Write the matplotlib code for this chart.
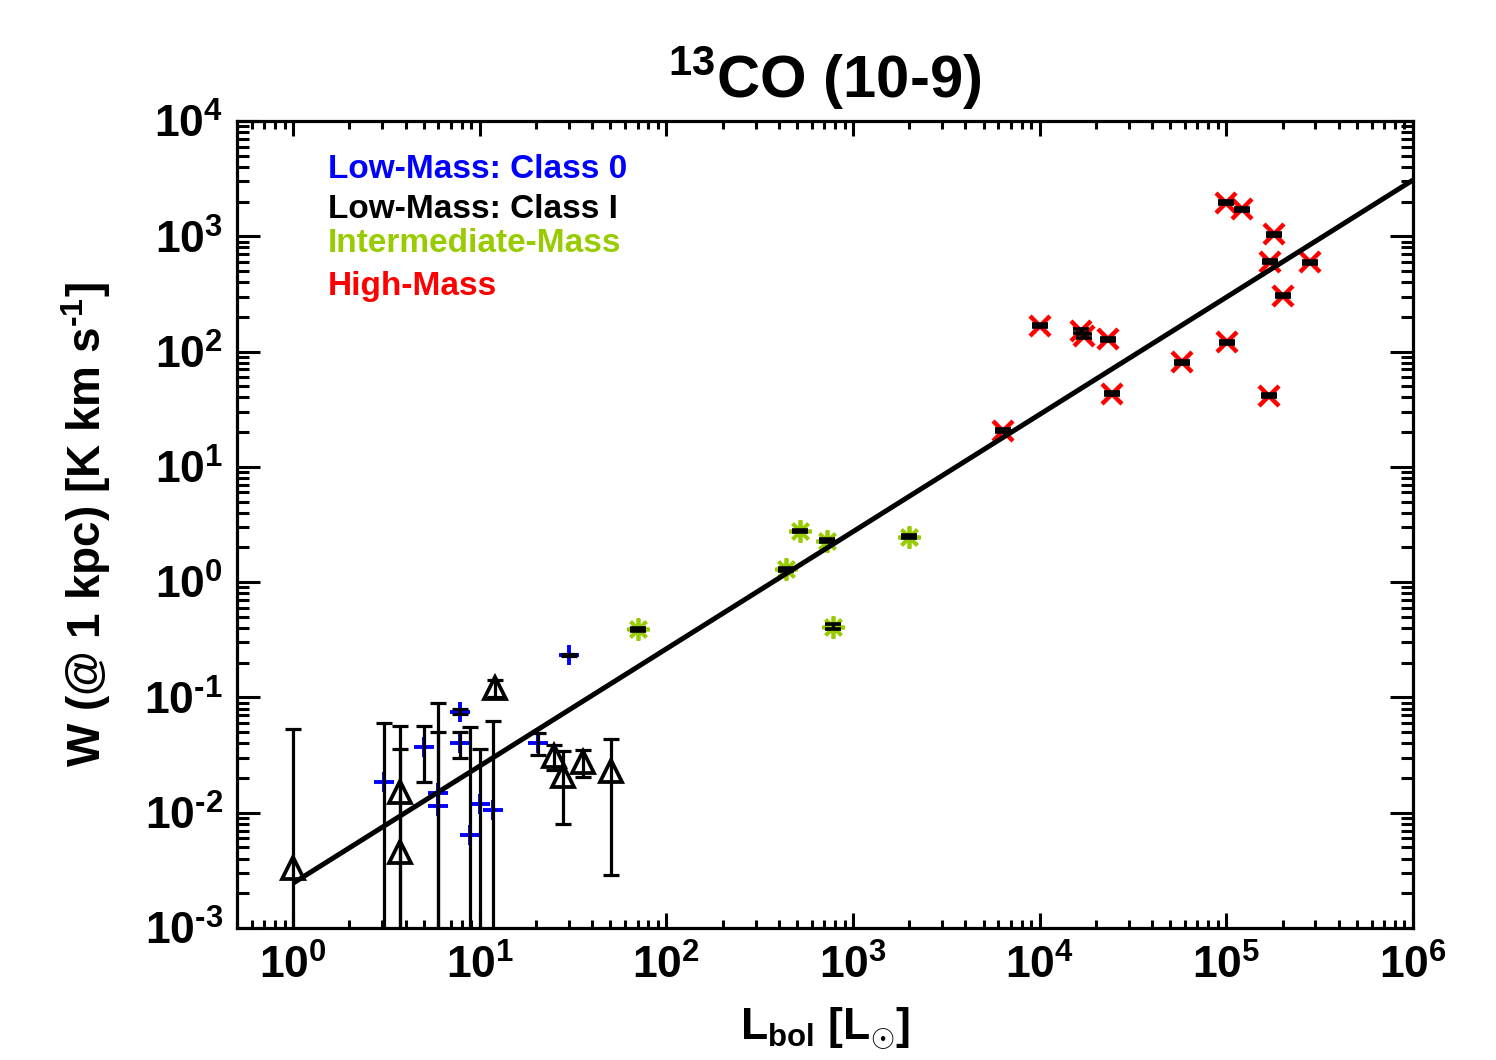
import numpy as np
import matplotlib
matplotlib.use("Agg")
import matplotlib.pyplot as plt
from matplotlib.ticker import LogLocator, FuncFormatter, NullFormatter

plt.rcParams['font.family'] = ['Liberation Sans', 'DejaVu Sans']
plt.rcParams['font.weight'] = 'bold'
plt.rcParams['mathtext.fontset'] = 'custom'
plt.rcParams['mathtext.rm'] = 'Liberation Sans:bold'
plt.rcParams['mathtext.it'] = 'Liberation Sans:bold'
plt.rcParams['mathtext.bf'] = 'Liberation Sans:bold'
plt.rcParams['mathtext.sf'] = 'Liberation Sans:bold'

# ---------------- data ----------------
# Low-mass Class 0 (blue +)
c0_L = [3.05, 5.0, 6.0, 6.0, 7.8, 7.8, 8.9, 10.0, 11.8, 20.6, 30.0]
c0_W = [0.0186, 0.0374, 0.0148, 0.0115, 0.0753, 0.0401, 0.0064, 0.0119, 0.0106, 0.0405, 0.234]
c0_err = [0.042, 0.019, 0.075, 0.039, 0.004, 0.0105, 0.049, 0.024, 0.052, 0.0087, 0.004]

# Low-mass Class I (black triangles)
c1_L = [1.0, 3.74, 3.74, 12.1, 25.1, 28.0, 35.9, 50.3]
c1_W = [0.0033, 0.0152, 0.0046, 0.121, 0.031, 0.021, 0.0277, 0.0232]
c1_err = [0.050, 0.041, 0.031, 0.02, 0.0077, 0.013, 0.0072, 0.0203]

# Intermediate-mass (green asterisks)
im_L = [70, 438, 520, 722, 783, 2000]
im_W = [0.39, 1.29, 2.78, 2.29, 0.41, 2.48]
im_err = [0.012, 0.04, 0.08, 0.07, 0.02, 0.07]

# High-mass (red x)
hm_L = [6330, 10000, 16600, 17200, 23100, 24300, 58200, 100200, 100000,
        120600, 180300, 171000, 200000, 280000, 169500]
hm_W = [20.5, 168, 150, 136, 128, 42.9, 80.7, 120, 1958,
        1714, 1040, 602, 305, 594, 41.5]
hm_err = [0.6, 5, 6, 5, 4, 1.3, 2.4, 3.6, 60, 50, 30, 18, 9, 18, 1.2]

# Fit line end points
fit_L = [1.0, 1.0e6]
fit_W = [0.00245, 3076.0]

# ---------------- figure ----------------
W_px, H_px = 1496, 1060
fig = plt.figure(figsize=(W_px / 100, H_px / 100), dpi=100)
ax = fig.add_axes([237 / W_px, 1 - 928 / H_px, (1413 - 237) / W_px, (928 - 121) / H_px])
ax.set_xscale('log')
ax.set_yscale('log')
ax.set_xlim(0.5, 1e6)
ax.set_ylim(1e-3, 1e4)

blue = '#0000FF'
green = '#99CC00'
red = '#FF0000'


def errs(y, e):
    y = np.asarray(y, float)
    e = np.asarray(e, float)
    lo = np.minimum(e, y - 1e-6)
    return np.vstack([lo, e])


cap = 5.5
ecw = 2.3

# Class 0
ax.plot(c0_L, c0_W, ls='none', marker='+', ms=14, mew=2.8, color=blue, zorder=3)
ax.errorbar(c0_L, c0_W, yerr=errs(c0_W, c0_err), fmt='none', ecolor='black',
            elinewidth=ecw, capsize=cap, capthick=ecw, zorder=4)

# Class I
ax.errorbar(c1_L, c1_W, yerr=errs(c1_W, c1_err), fmt='none', ecolor='black',
            elinewidth=ecw, capsize=cap, capthick=ecw, zorder=4)
ax.plot(c1_L, c1_W, ls='none', marker='^', ms=16, mew=2.7, mfc='none', mec='black', zorder=5)

# Intermediate-mass
ax.plot(im_L, im_W, ls='none', marker=(8, 2, 0), ms=16, mew=2.7, color=green, zorder=3)
ax.errorbar(im_L, im_W, yerr=errs(im_W, im_err), fmt='none', ecolor='black',
            elinewidth=ecw, capsize=6, capthick=2.6, zorder=4)

# High-mass
ax.plot(hm_L, hm_W, ls='none', marker='x', ms=15, mew=3.2, color=red, zorder=3)
ax.errorbar(hm_L, hm_W, yerr=errs(hm_W, hm_err), fmt='none', ecolor='black',
            elinewidth=ecw, capsize=6, capthick=2.6, zorder=4)

# Fit
ax.plot(fit_L, fit_W, color='black', lw=3.6, zorder=6, solid_capstyle='butt')

# ---------------- axes styling ----------------
for s in ax.spines.values():
    s.set_linewidth(2.3)

ax.xaxis.set_major_locator(LogLocator(base=10, numticks=20))
ax.xaxis.set_minor_locator(LogLocator(base=10, subs=np.arange(2, 10), numticks=20))
ax.yaxis.set_major_locator(LogLocator(base=10, numticks=20))
ax.yaxis.set_minor_locator(LogLocator(base=10, subs=np.arange(2, 10), numticks=20))


def tick_fmt(v, p):
    e = int(round(np.log10(v)))
    if e < 0:
        return r'$10^{\text{-}%d}$' % (-e)
    return r'$10^{%d}$' % e


fmt = FuncFormatter(tick_fmt)
ax.xaxis.set_major_formatter(fmt)
ax.yaxis.set_major_formatter(fmt)
ax.xaxis.set_minor_formatter(NullFormatter())
ax.yaxis.set_minor_formatter(NullFormatter())

ax.tick_params(axis='x', which='major', direction='in', length=11, width=2.2,
               top=True, bottom=True, labelsize=32, pad=12)
ax.tick_params(axis='x', which='minor', direction='in', length=5.5, width=2.2,
               top=True, bottom=True, labelbottom=False)
ax.tick_params(axis='y', which='major', direction='in', length=16.5, width=2.2,
               left=True, right=True, labelsize=32, pad=10)
ax.tick_params(axis='y', which='minor', direction='in', length=8.5, width=2.2,
               left=True, right=True, labelleft=False)

# ---------------- text ----------------
fig.text(825 / W_px, 1 - 98 / H_px, r'$^{13}$CO (10-9)', ha='center', va='baseline',
         fontsize=43, fontweight='bold')
fig.text(825 / W_px, 1 - 1040 / H_px, r'L$_{\rm bol}$ [L$_{\odot}$]', ha='center',
         va='baseline', fontsize=32, fontweight='bold')
fig.text(86 / W_px, 1 - 525 / H_px, r'W (@ 1 kpc) [K km s$^{\text{-}1}$]', ha='center',
         va='center', rotation=90, fontsize=33, fontweight='bold')

legend_items = [('Low-Mass: Class 0', blue, 0.929),
                ('Low-Mass: Class I', 'black', 0.880),
                ('Intermediate-Mass', green, 0.838),
                ('High-Mass', red, 0.784)]
for txt, col, yy in legend_items:
    ax.text(0.0774, yy, txt, transform=ax.transAxes, color=col, fontsize=24,
            fontweight='bold', ha='left', va='baseline')

fig.savefig('out.png', dpi=100)
